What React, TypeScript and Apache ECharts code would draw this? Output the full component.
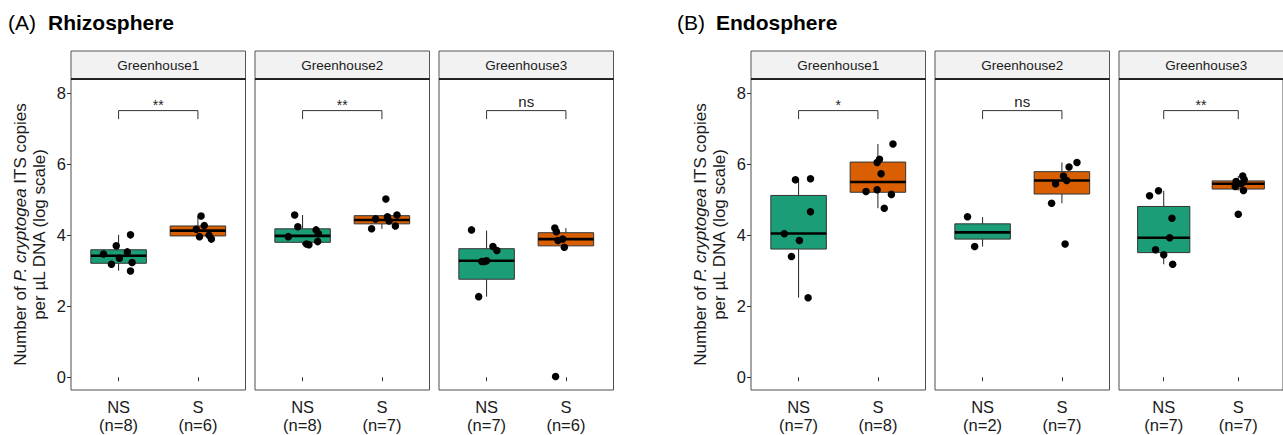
import React, { useEffect, useRef } from "react";
import * as echarts from "echarts";

// ---------- data ----------
const panelTags = ["(A)", "(B)"];
const panelNames = ["Rhizosphere", "Endosphere"];
const facets = ["Greenhouse1", "Greenhouse2", "Greenhouse3"];
const groups = ["NS", "S"];
const yTicks = [0, 2, 4, 6, 8];

// sample sizes [NS, S] per greenhouse
const rhizoN = [[8, 6], [8, 7], [7, 6]];
const endoN = [[7, 8], [2, 7], [7, 7]];

// significance labels per greenhouse
const rhizoSig = ["**", "**", "ns"];
const endoSig = ["*", "ns", "**"];

// box stats: [whisker low, Q1, median, Q3, whisker high]
const rhizoNSBox = [[3.0, 3.21, 3.42, 3.59, 4.01], [3.73, 3.8, 3.98, 4.18, 4.57], [2.27, 2.76, 3.28, 3.62, 4.13]];
const rhizoSBox = [[3.89, 3.98, 4.13, 4.26, 4.54], [4.18, 4.32, 4.43, 4.55, 4.57], [3.66, 3.7, 3.89, 4.07, 4.2]];
const endoNSBox = [[2.24, 3.61, 4.05, 5.12, 5.56], [3.68, 3.89, 4.08, 4.32, 4.51], [3.18, 3.51, 3.93, 4.81, 5.25]];
const endoSBox = [[4.76, 5.21, 5.5, 6.06, 6.57], [4.9, 5.16, 5.54, 5.79, 6.05], [5.26, 5.3, 5.45, 5.53, 5.67]];

// jittered points: [x offset from group centre, value]
const rhizoNSPts = [
  [[0.15, 4.01], [-0.03, 3.7], [-0.19, 3.47], [0.11, 3.53], [0.01, 3.35], [-0.09, 3.18], [0.17, 3.23], [0.15, 2.99]],
  [[-0.1, 4.57], [-0.06, 4.24], [-0.18, 3.96], [0.17, 4.15], [0.2, 4.04], [0.05, 3.75], [0.08, 3.73], [0.19, 3.82]],
  [[-0.19, 4.15], [0.08, 3.68], [0.13, 3.57], [-0.06, 3.26], [0.0, 3.28], [-0.1, 2.27], [-0.03, 3.26]],
];
const rhizoSPts = [
  [[0.04, 4.54], [0.08, 4.27], [-0.02, 4.17], [0.14, 4.0], [0.02, 3.96], [0.17, 3.89]],
  [[0.05, 5.02], [-0.08, 4.46], [0.07, 4.52], [0.19, 4.57], [0.09, 4.4], [-0.13, 4.18], [0.17, 4.26]],
  [[-0.14, 4.2], [-0.12, 4.1], [-0.1, 3.85], [-0.04, 3.89], [-0.02, 3.66], [-0.13, 0.02]],
];
const endoNSPts = [
  [[-0.04, 5.56], [0.15, 5.59], [0.15, 4.66], [-0.18, 4.04], [0.01, 3.85], [-0.09, 3.4], [0.12, 2.24]],
  [[-0.19, 4.52], [-0.1, 3.68]],
  [[-0.19, 5.11], [-0.07, 5.25], [0.11, 4.48], [0.08, 3.93], [-0.11, 3.59], [0.0, 3.45], [0.12, 3.18]],
];
const endoSPts = [
  [[0.19, 6.57], [0.02, 6.14], [-0.01, 6.05], [0.04, 5.73], [-0.15, 5.23], [-0.01, 5.28], [0.17, 5.15], [0.08, 4.76]],
  [[0.19, 6.05], [0.09, 5.92], [0.02, 5.67], [0.06, 5.54], [-0.08, 5.45], [-0.13, 4.9], [0.04, 3.75]],
  [[0.06, 5.67], [-0.03, 5.51], [0.08, 5.56], [-0.04, 5.37], [0.07, 5.26], [0.0, 4.59], [0.04, 5.45]],
];

// bracket heights: [tip, bar, label baseline]
const bracketY = [7.27, 7.51, 7.6];

// ---------- style / layout ----------
const FONT = "'Liberation Sans', Arial, Helvetica, sans-serif";
const COLORS = ["#1b9e77", "#d95f02"];
const GRID_LEFTS = [71, 255, 439, 751, 935, 1119];
const FACET_W = 174.5;
const PLOT_TOP = 79;
const PLOT_H = 311;
const STRIP_TOP = 51;
const STRIP_H = 28;
const TEXT = "#1a1a1a";

export default function App() {
  const ref = useRef<HTMLDivElement>(null);

  useEffect(() => {
    if (!ref.current) return;
    const chart = echarts.init(ref.current, null, { renderer: "svg" });

    const panelsData = [
      { n: rhizoN, sig: rhizoSig, nsBox: rhizoNSBox, sBox: rhizoSBox, nsPts: rhizoNSPts, sPts: rhizoSPts },
      { n: endoN, sig: endoSig, nsBox: endoNSBox, sBox: endoSBox, nsPts: endoNSPts, sPts: endoSPts },
    ];

    const grids: any[] = [];
    const xAxes: any[] = [];
    const yAxes: any[] = [];
    const series: any[] = [];
    const graphics: any[] = [];

    panelsData.forEach((pd, p) => {
      facets.forEach((fname, f) => {
        const i = p * 3 + f;
        const left = GRID_LEFTS[i];
        grids.push({
          left,
          top: PLOT_TOP,
          width: FACET_W,
          height: PLOT_H,
          show: true,
          borderColor: "#4d4d4d",
          borderWidth: 1,
          backgroundColor: "#ffffff",
        });
        const nArr = pd.n[f];
        xAxes.push({
          gridIndex: i,
          type: "value",
          min: 0.4,
          max: 2.6,
          splitLine: { show: false },
          axisLine: { show: false },
          axisTick: { show: true, customValues: [1, 2], length: 4, lineStyle: { color: "#333" } },
          axisLabel: {
            customValues: [1, 2],
            formatter: (v: number) => {
              const g = Math.round(v) - 1;
              return `${groups[g]}\n(n=${nArr[g]})`;
            },
            fontSize: 16.5,
            lineHeight: 18,
            color: TEXT,
            fontFamily: FONT,
            margin: 8,
          },
        });
        const showY = f === 0;
        yAxes.push({
          gridIndex: i,
          type: "value",
          min: -0.36,
          max: 8.4,
          show: showY,
          splitLine: { show: false },
          axisLine: { show: false },
          axisTick: { show: true, customValues: yTicks, length: 4, lineStyle: { color: "#333" } },
          axisLabel: { customValues: yTicks, fontSize: 16.5, color: TEXT, fontFamily: FONT, margin: 5 },
          name: showY ? "Number of {i|P. cryptogea} ITS copies\nper µL DNA (log scale)" : "",
          nameLocation: "middle",
          nameRotate: 90,
          nameGap: 22,
          nameTextStyle: {
            fontSize: 17,
            lineHeight: 19,
            color: TEXT,
            fontFamily: FONT,
            rich: { i: { fontStyle: "italic", fontSize: 17, lineHeight: 19, color: TEXT, fontFamily: FONT } },
          },
        });

        // boxes
        const boxData = [
          [1, ...pd.nsBox[f], 0],
          [2, ...pd.sBox[f], 1],
        ];
        series.push({
          type: "custom",
          xAxisIndex: i,
          yAxisIndex: i,
          data: boxData,
          silent: true,
          z: 2,
          renderItem: (params: any, api: any) => {
            const x = api.value(0);
            const lo = api.coord([x, api.value(1)]);
            const q1 = api.coord([x, api.value(2)]);
            const med = api.coord([x, api.value(3)]);
            const q3 = api.coord([x, api.value(4)]);
            const hi = api.coord([x, api.value(5)]);
            const ci = api.value(6);
            const half = api.size([0.35, 0])[0];
            return {
              type: "group",
              children: [
                { type: "line", shape: { x1: lo[0], y1: lo[1], x2: q1[0], y2: q1[1] }, style: { stroke: "#222", lineWidth: 1 } },
                { type: "line", shape: { x1: q3[0], y1: q3[1], x2: hi[0], y2: hi[1] }, style: { stroke: "#222", lineWidth: 1 } },
                {
                  type: "rect",
                  shape: { x: q3[0] - half, y: q3[1], width: half * 2, height: q1[1] - q3[1] },
                  style: { fill: COLORS[ci], stroke: "#333", lineWidth: 1 },
                },
                {
                  type: "line",
                  shape: { x1: med[0] - half, y1: med[1], x2: med[0] + half, y2: med[1] },
                  style: { stroke: "#000", lineWidth: 2.6 },
                },
              ],
            };
          },
        });

        // points
        const pts = [
          ...pd.nsPts[f].map((d) => [1 + d[0], d[1]]),
          ...pd.sPts[f].map((d) => [2 + d[0], d[1]]),
        ];
        series.push({
          type: "scatter",
          xAxisIndex: i,
          yAxisIndex: i,
          data: pts,
          symbol: "circle",
          symbolSize: 7.5,
          itemStyle: { color: "#000", opacity: 1 },
          silent: true,
          z: 3,
        });

        // significance bracket
        const sigLabel = pd.sig[f];
        series.push({
          type: "custom",
          xAxisIndex: i,
          yAxisIndex: i,
          data: [[1, 2, ...bracketY]],
          silent: true,
          z: 4,
          renderItem: (params: any, api: any) => {
            const a = api.coord([api.value(0), api.value(2)]);
            const b = api.coord([api.value(0), api.value(3)]);
            const c = api.coord([api.value(1), api.value(3)]);
            const d = api.coord([api.value(1), api.value(2)]);
            const t = api.coord([(api.value(0) + api.value(1)) / 2, api.value(4)]);
            const isNs = sigLabel === "ns";
            return {
              type: "group",
              children: [
                {
                  type: "polyline",
                  shape: { points: [a, b, c, d] },
                  style: { stroke: "#333", lineWidth: 1, fill: "none" },
                },
                {
                  type: "text",
                  x: t[0],
                  y: isNs ? t[1] + 2 : t[1] + 5,
                  style: {
                    text: sigLabel,
                    align: "center",
                    verticalAlign: "bottom",
                    fontSize: isNs ? 15 : 14,
                    fontFamily: FONT,
                    fill: "#222",
                  },
                },
              ],
            };
          },
        });

        // strip
        graphics.push({
          type: "rect",
          shape: { x: left, y: STRIP_TOP, width: FACET_W, height: STRIP_H },
          style: { fill: "#f2f2f2", stroke: "#555", lineWidth: 1 },
          z: 10,
        });
        graphics.push({
          type: "line",
          shape: { x1: left, y1: STRIP_TOP + STRIP_H, x2: left + FACET_W, y2: STRIP_TOP + STRIP_H },
          style: { stroke: "#000", lineWidth: 1.6 },
          z: 11,
        });
        graphics.push({
          type: "text",
          x: left + FACET_W / 2,
          y: STRIP_TOP + STRIP_H / 2,
          style: {
            text: fname,
            align: "center",
            verticalAlign: "middle",
            fontSize: 13.5,
            fontFamily: FONT,
            fill: TEXT,
          },
          z: 11,
        });
      });
    });

    // panel titles
    const titleX = [[8, 48], [677, 716]];
    panelTags.forEach((tag, p) => {
      graphics.push({
        type: "text",
        x: titleX[p][0],
        y: 22,
        style: { text: tag, fontSize: 21, fontFamily: FONT, fill: "#000", verticalAlign: "middle" },
      });
      graphics.push({
        type: "text",
        x: titleX[p][1],
        y: 22,
        style: { text: panelNames[p], fontSize: 21, fontWeight: "bold", fontFamily: FONT, fill: "#000", verticalAlign: "middle" },
      });
    });

    chart.setOption({
      animation: false,
      backgroundColor: "#ffffff",
      textStyle: { fontFamily: FONT },
      grid: grids,
      xAxis: xAxes,
      yAxis: yAxes,
      series,
      graphic: graphics,
    });

    return () => chart.dispose();
  }, []);

  return <div ref={ref} style={{ position: "absolute", left: 0, top: 0, width: 1283, height: 435 }} />;
}
